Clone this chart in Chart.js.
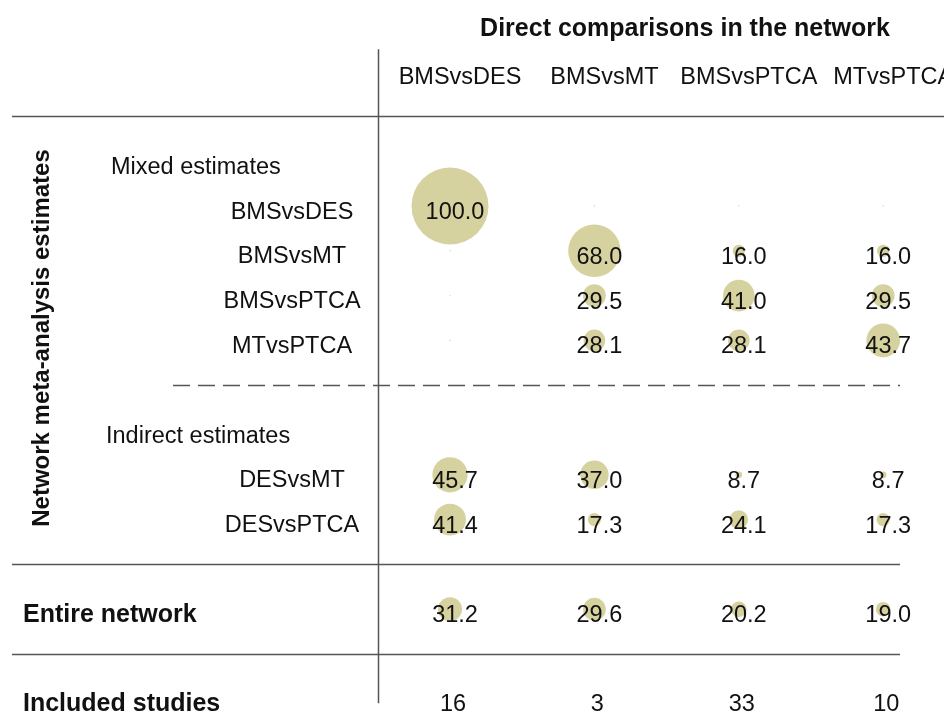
<!DOCTYPE html>
<html>
<head>
<meta charset="utf-8">
<script src="https://cdn.jsdelivr.net/npm/chart.js@4/dist/chart.umd.min.js"></script>
<style>
  html, body { margin: 0; padding: 0; background: #fff; }
  #wrap { width: 944px; height: 713px; }
</style>
</head>
<body>
<div id="wrap"><canvas id="contribChart" width="944" height="713"></canvas></div>
<script>
// direct comparisons (columns)
const directComparisons = ['BMSvsDES', 'BMSvsMT', 'BMSvsPTCA', 'MTvsPTCA'];

// network estimates (rows)
const mixedEstimates = ['BMSvsDES', 'BMSvsMT', 'BMSvsPTCA', 'MTvsPTCA'];
const indirectEstimates = ['DESvsMT', 'DESvsPTCA'];

// contribution (%) of each direct comparison
const mixedBMSvsDES = [100.0, 0, 0, 0];
const mixedBMSvsMT = [0, 68.0, 16.0, 16.0];
const mixedBMSvsPTCA = [0, 29.5, 41.0, 29.5];
const mixedMTvsPTCA = [0, 28.1, 28.1, 43.7];
const indirectDESvsMT = [45.7, 37.0, 8.7, 8.7];
const indirectDESvsPTCA = [41.4, 17.3, 24.1, 17.3];
const entireNetwork = [31.2, 29.6, 20.2, 19.0];
const includedStudies = [16, 3, 33, 10];

// row slots on the y axis
const mixedRowsData = [mixedBMSvsDES, mixedBMSvsMT, mixedBMSvsPTCA, mixedMTvsPTCA];
const indirectRowsData = [indirectDESvsMT, indirectDESvsPTCA];
const mixedStart = 0, indirectStart = 6, entireRow = 9, studiesRow = 11;

const bubbleColor = 'rgb(214, 210, 160)';
const font = '"Liberation Sans", Arial, sans-serif';

// one point per cell, radius proportional to contribution
const points = [];
function addRow(values, row) {
    values.forEach((v, col) => {
        points.push({ x: col, y: row, r: Math.max(v * 0.385, 0.7), v: v });
    });
}
mixedRowsData.forEach((vals, i) => addRow(vals, mixedStart + i));
indirectRowsData.forEach((vals, i) => addRow(vals, indirectStart + i));
addRow(entireNetwork, entireRow);

const tablePlugin = {
    id: 'tableLayout',
    beforeDatasetsDraw(chart) {
        const ctx = chart.ctx;
        const xs = chart.scales.x, ys = chart.scales.y;
        ctx.save();
        ctx.strokeStyle = '#555';
        ctx.lineWidth = 1.5;
        function hline(row, x0, x1, dash) {
            const y = Math.round(ys.getPixelForValue(row)) + 0.5;
            ctx.setLineDash(dash || []);
            ctx.beginPath();
            ctx.moveTo(x0, y);
            ctx.lineTo(x1, y);
            ctx.stroke();
        }
        hline(-2, 12, 944);
        hline(4, 173, 900, [17, 8]);
        hline(8, 12, 900);
        hline(10, 12, 900);
        // vertical separator
        ctx.setLineDash([]);
        const vx = Math.round(xs.getPixelForValue(-0.5)) + 0.5;
        ctx.beginPath();
        ctx.moveTo(vx, ys.getPixelForValue(-3.5));
        ctx.lineTo(vx, ys.getPixelForValue(11.1));
        ctx.stroke();
        ctx.restore();
    },
    afterDatasetsDraw(chart) {
        const ctx = chart.ctx;
        const xs = chart.scales.x, ys = chart.scales.y;
        const base = row => ys.getPixelForValue(row) + 12.5;
        ctx.save();
        ctx.fillStyle = '#111';

        // header
        ctx.font = 'bold 25px ' + font;
        ctx.textAlign = 'center';
        ctx.fillText('Direct comparisons in the network', 685, 36);
        ctx.font = '23.5px ' + font;
        directComparisons.forEach((lab, i) => {
            ctx.fillText(lab, xs.getPixelForValue(i) + 10, base(-3));
        });

        // row labels
        ctx.textAlign = 'left';
        ctx.fillText('Mixed estimates', 111, base(mixedStart - 1));
        ctx.fillText('Indirect estimates', 106, base(indirectStart - 1));
        ctx.textAlign = 'center';
        mixedEstimates.forEach((lab, i) => ctx.fillText(lab, 292, base(mixedStart + i)));
        indirectEstimates.forEach((lab, i) => ctx.fillText(lab, 292, base(indirectStart + i)));

        ctx.font = 'bold 25px ' + font;
        ctx.textAlign = 'left';
        ctx.fillText('Entire network', 23, base(entireRow));
        ctx.fillText('Included studies', 23, base(studiesRow));

        // rotated group label
        ctx.save();
        ctx.font = 'bold 24px ' + font;
        ctx.textAlign = 'center';
        ctx.translate(49, 338);
        ctx.rotate(-Math.PI / 2);
        ctx.fillText('Network meta-analysis estimates', 0, 0);
        ctx.restore();

        // cell values next to bubbles
        ctx.font = '23.5px ' + font;
        ctx.textAlign = 'center';
        const meta = chart.getDatasetMeta(0);
        meta.data.forEach((el, i) => {
            const p = points[i];
            if (p.v > 0) ctx.fillText(p.v.toFixed(1), el.x + 5, el.y + 13);
        });
        includedStudies.forEach((n, i) => {
            ctx.fillText(String(n), xs.getPixelForValue(i) + 3, base(studiesRow));
        });
        ctx.restore();
    }
};

const ctx = document.getElementById('contribChart').getContext('2d');
const contribChart = new Chart(ctx, {
    type: 'bubble',
    data: {
        datasets: [{
            data: points,
            backgroundColor: bubbleColor,
            borderWidth: 0,
            hoverBorderWidth: 0,
            clip: false
        }]
    },
    options: {
        responsive: false,
        animation: false,
        events: [],
        layout: {
            autoPadding: false,
            padding: { left: 450, right: 60.8, top: 26.8, bottom: 14.2 }
        },
        scales: {
            x: { type: 'linear', min: 0, max: 3, display: false },
            y: { type: 'linear', min: -4, max: 11, reverse: true, display: false }
        },
        plugins: {
            legend: { display: false },
            tooltip: { enabled: false }
        }
    },
    plugins: [tablePlugin]
});
</script>
</body>
</html>
